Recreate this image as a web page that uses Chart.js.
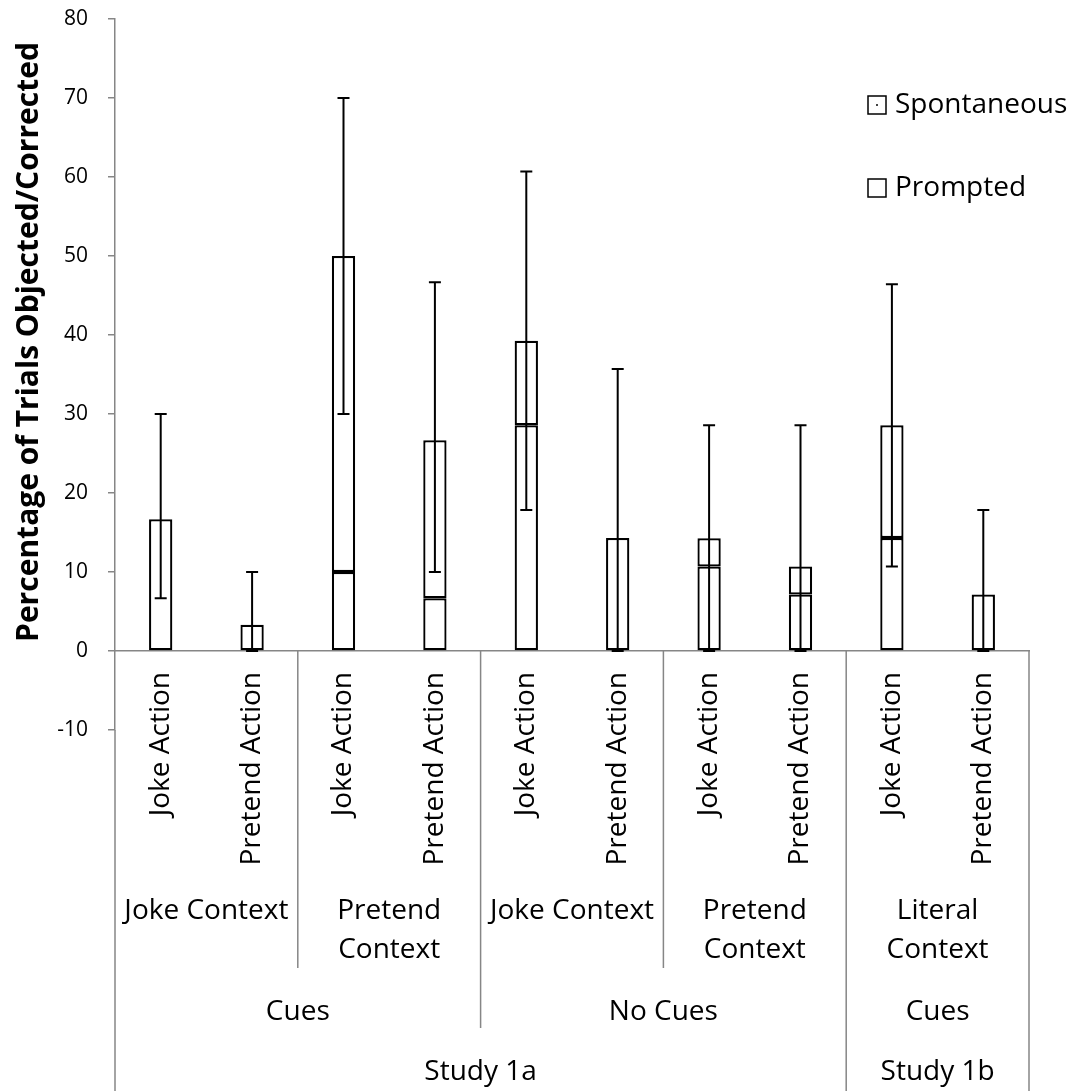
<!DOCTYPE html>
<html>
<head>
<meta charset="utf-8">
<script src="https://cdn.jsdelivr.net/npm/chart.js@4.4.1/dist/chart.umd.min.js"></script>
<style>
  html, body { margin: 0; padding: 0; background: #fff; }
  #wrap { width: 1073px; height: 1091px; }
</style>
</head>
<body>
<div id="wrap"><canvas id="chart" width="1073" height="1091"></canvas></div>
<script>
// values (percent of trials)
const actions = ['Joke Action', 'Pretend Action', 'Joke Action', 'Pretend Action', 'Joke Action',
                 'Pretend Action', 'Joke Action', 'Pretend Action', 'Joke Action', 'Pretend Action'];
const spontaneous = [0, 0, 10, 6.67, 28.57, 0, 10.71, 7.14, 14.29, 0];
const prompted    = [16.67, 3.33, 40, 20, 10.71, 14.29, 3.57, 3.57, 14.29, 7.14];
const errLow  = [6.67, 0, 30, 10, 17.86, 0, 0, 0, 10.71, 0];
const errHigh = [30, 10, 70, 46.67, 60.71, 35.71, 28.57, 28.57, 46.43, 17.86];

// multi-level category labels, each context spans 2 bars
const contexts = [['Joke Context'], ['Pretend', 'Context'], ['Joke Context'], ['Pretend', 'Context'], ['Literal', 'Context']];
const cues = ['Cues', 'No Cues', 'Cues'];
const cueSpans = [4, 4, 2];
const studies = ['Study 1a', 'Study 1b'];
const studySpans = [8, 2];

const yMin = -10, yMax = 80, yStep = 10;
const yTitle = 'Percentage of Trials Objected/Corrected';

const AXIS = '#868686';
const FONT = 'Open Sans';
Chart.defaults.font.family = FONT;
Chart.defaults.color = '#000';

// error bars on the stacked total
const errorBars = {
  id: 'errorBars',
  afterDatasetsDraw(chart) {
    const { ctx, scales: { x, y } } = chart;
    ctx.save();
    ctx.strokeStyle = '#000';
    ctx.lineWidth = 2;
    errLow.forEach((lo, i) => {
      const cx = x.getPixelForValue(i);
      const y1 = y.getPixelForValue(lo);
      const y2 = y.getPixelForValue(errHigh[i]);
      ctx.beginPath();
      ctx.moveTo(cx, y1); ctx.lineTo(cx, y2);
      ctx.moveTo(cx - 6, y1); ctx.lineTo(cx + 6, y1);
      ctx.moveTo(cx - 6, y2); ctx.lineTo(cx + 6, y2);
      ctx.stroke();
    });
    ctx.restore();
  }
};

// y title (sits a bit above the axis middle), group labels, separators, legend
const groupLabels = {
  id: 'groupLabels',
  afterDraw(chart) {
    const { ctx, chartArea, scales: { x, y } } = chart;
    const H = chart.height;
    const w = x.getPixelForValue(1) - x.getPixelForValue(0);
    const edge = k => x.getPixelForValue(k) - w / 2;
    const y0 = y.getPixelForValue(0);

    ctx.save();
    ctx.translate(29, 342);
    ctx.rotate(-Math.PI / 2);
    ctx.font = 'bold 30px "' + FONT + '"';
    ctx.fillStyle = '#000';
    ctx.textAlign = 'center';
    ctx.textBaseline = 'middle';
    ctx.fillText(yTitle, 0, 0);
    ctx.restore();

    ctx.save();
    ctx.strokeStyle = AXIS;
    ctx.lineWidth = 1.5;
    const vline = (px, ya, yb) => { ctx.beginPath(); ctx.moveTo(px, ya); ctx.lineTo(px, yb); ctx.stroke(); };
    vline(edge(0), chartArea.bottom, H);
    vline(edge(actions.length), y0, H);
    [2, 6].forEach(k => vline(edge(k), y0, 968));
    vline(edge(4), y0, 1028);
    vline(edge(8), y0, H);

    ctx.fillStyle = '#000';
    ctx.font = '28px "' + FONT + '"';
    ctx.textAlign = 'center';
    ctx.textBaseline = 'alphabetic';
    contexts.forEach((lines, i) => {
      const cx = (edge(2 * i) + edge(2 * i + 2)) / 2;
      lines.forEach((t, j) => ctx.fillText(t, cx, 919 + j * 39));
    });
    let k = 0;
    cues.forEach((t, i) => {
      ctx.fillText(t, (edge(k) + edge(k + cueSpans[i])) / 2, 1020);
      k += cueSpans[i];
    });
    k = 0;
    studies.forEach((t, i) => {
      ctx.fillText(t, (edge(k) + edge(k + studySpans[i])) / 2, 1080);
      k += studySpans[i];
    });

    // legend
    ctx.textAlign = 'left';
    ctx.textBaseline = 'middle';
    chart.data.datasets.forEach((ds, i) => {
      const ly = 105 + i * 83;
      ctx.fillStyle = '#fff';
      ctx.fillRect(868, ly - 9, 18, 18);
      ctx.strokeStyle = '#000';
      ctx.lineWidth = 1.5;
      ctx.strokeRect(868, ly - 9, 18, 18);
      if (i === 0) { ctx.fillStyle = '#444'; ctx.fillRect(876, ly - 1, 2, 2); }
      ctx.fillStyle = '#000';
      ctx.fillText(ds.label, 895, ly);
    });
    ctx.restore();
  }
};

new Chart(document.getElementById('chart'), {
  type: 'bar',
  data: {
    labels: actions,
    datasets: [
      { label: 'Spontaneous', data: spontaneous },
      { label: 'Prompted', data: prompted }
    ].map(d => Object.assign(d, {
      backgroundColor: '#fff',
      borderColor: '#000',
      borderWidth: 2.25,
      borderSkipped: false,
      barPercentage: 0.255,
      categoryPercentage: 1
    }))
  },
  options: {
    responsive: false,
    animation: false,
    layout: { padding: { left: 0, right: 44, top: 19, bottom: 361 } },
    plugins: { legend: { display: false }, tooltip: { enabled: false } },
    scales: {
      x: {
        stacked: true,
        position: { y: 0 },
        z: 1,
        grid: { display: false, drawTicks: false },
        border: { display: true, color: AXIS, width: 1.5 },
        ticks: { autoSkip: false, minRotation: 90, maxRotation: 90, padding: 21, font: { size: 28 }, color: '#000' }
      },
      y: {
        stacked: true,
        min: yMin, max: yMax,
        afterFit: s => { s.width = 115; s.paddingTop = 0; s.paddingBottom = 0; },
        grid: { drawOnChartArea: false, tickLength: 7, color: AXIS, lineWidth: 1.5 },
        border: { color: AXIS, width: 1.5 },
        ticks: { stepSize: yStep, padding: 20, font: { size: 21 }, color: '#000' }
      }
    }
  },
  plugins: [errorBars, groupLabels]
});
</script>
</body>
</html>
